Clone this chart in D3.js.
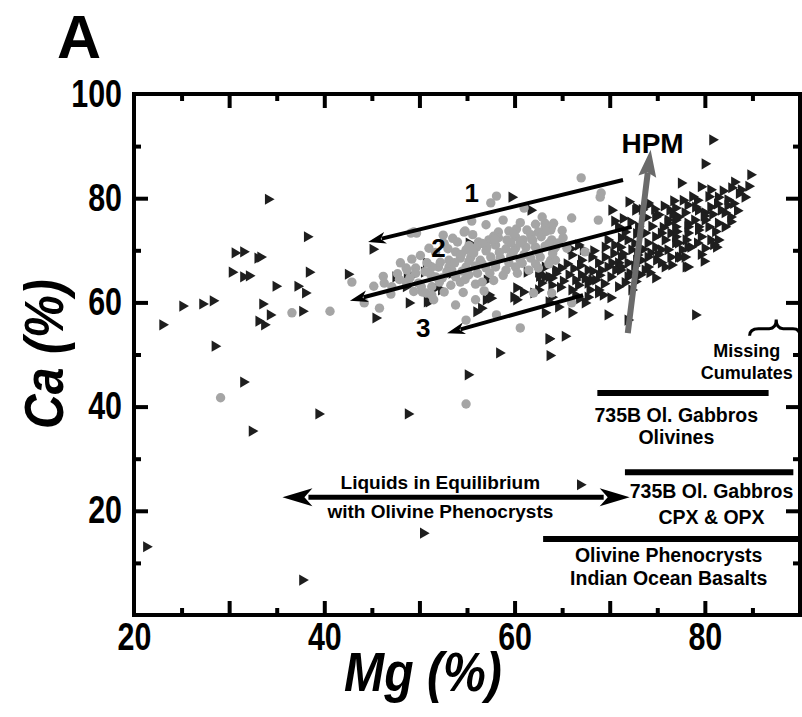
<!DOCTYPE html>
<html><head><meta charset="utf-8">
<script src="https://cdn.jsdelivr.net/npm/d3@7"></script>
<style>
body{margin:0;background:#fff;}
svg{display:block;}
</style></head>
<body>
<script>
// ---- data ----
const blackX = [34.1,38.2,30.6,31.5,33.0,33.3,30.3,31.5,32.1,38.4,34.9,37.2,38.0,42.5,25.1,27.2,28.3,33.5,34.3,33.1,33.7,37.7,23.0,28.5,31.5,39.4,32.4,21.3,37.7,
58.4,63.7,63.6,55.1,48.8,66.9,50.4,45.1,59.7,61.7,
55.2,50.7,49.2,48.6,52.8,53.4,51.7,52.3,48.9,51.0,57.1,57.0,56.0,56.5,57.3,60.2,60.9,62.0,62.5,63.2,63.9,64.3,61.3,62.5,60.2,59.9,63.2,63.9,
50.5,48.7,47.5,45.4,50.8,57.5,63.6,65.3,
70.2,72.7,74.0,75.1,76.3,76.9,
70.9,71.6,71.2,71.9,71.1,72.3,71.2,70.9,71.9,71.1,72.1,
73.0,73.7,74.0,74.3,73.3,74.0,74.9,75.4,75.8,74.8,76.4,76.9,76.4,75.8,
66.7,66.0,67.0,68.1,68.8,67.7,69.5,69.1,69.8,69.5,
64.9,65.7,66.4,67.0,67.7,68.5,66.7,66.0,
63.2,62.6,63.6,64.3,62.8,63.9,
68.8,66.4,67.7,63.6,64.6,69.8,66.0,71.9,
80.8,80.0,84.8,77.5,
79.6,80.6,81.4,83.1,83.8,84.2,82.4,81.7,
72.8,74.0,
76.9,78.2,79.3,80.6,82.1,82.7,80.0,81.4,82.1,
74.8,76.1,77.2,78.2,79.3,75.4,76.9,78.2,79.6,
80.6,
77.2,78.5,77.9,76.1,74.8,74.0,75.4,77.2,78.2,
79.0,
70.2,71.2,71.9,72.8,73.7,70.1,70.9,72.3,
68.1,68.8,67.4,
81.4,81.2,78.2,77.4,78.0,
76.1,76.9,77.9,79.0,80.0,78.2,79.3,80.4,
64.8,65.5,66.2,66.9,67.4,68.2,68.9,69.4,65.1,66.8,67.9,69.3,70.1,68.3,67.2,65.9,70.4,69.8,70.5,
70.5,71.4,72.2,72.8,72.6,73.5,72.9,72.6,73.2,74.2,74.8,75.1,74.4,75.6,73.8,72.0,73.4,74.7,75.7,76.7,71.4,70.6,71.6,72.7,
76.6,77.7,78.7,77.0,78.0,79.2,80.0,79.6,77.6,76.5,78.9,79.9,80.8,81.3,82.4,83.0,83.6,84.6,82.8,81.9,80.4,79.2,81.1,82.7,83.4,80.9,79.9];
const blackY = [79.8,72.6,69.5,69.7,68.5,68.7,65.8,64.9,65.1,65.8,63.1,63.1,61.8,65.4,59.3,59.7,60.3,59.7,57.6,56.4,55.7,58.3,55.7,51.6,44.7,38.6,35.3,13.1,6.7,
50.3,49.8,53.0,46.1,38.6,25.0,15.7,70.2,80.2,77.7,
71.4,67.6,65.1,63.0,65.3,65.6,62.8,62.4,59.9,60.1,64.3,60.5,58.2,58.9,61.4,62.8,62.0,61.8,62.4,64.9,64.7,66.2,65.8,65.8,60.5,61.0,58.0,61.0,
65.8,65.1,64.9,57.0,60.1,60.8,53.0,53.5,
77.7,77.7,79.1,76.8,77.7,75.8,
74.5,73.5,72.4,72.0,70.6,70.1,68.7,67.6,67.6,66.2,65.6,
74.5,73.3,71.4,69.5,68.1,66.8,68.1,70.1,72.0,72.6,73.3,71.4,68.7,66.8,
71.0,69.1,68.1,68.7,67.6,66.2,68.7,66.2,66.8,70.6,
66.6,65.3,64.3,65.3,63.7,64.3,63.3,62.4,
66.8,65.0,64.9,65.6,63.7,63.3,
61.8,61.4,61.0,60.1,59.1,57.6,58.0,56.6,
91.2,86.6,84.5,82.9,
82.2,81.6,80.2,83.1,81.6,80.2,79.7,77.7,
78.1,78.7,
78.1,78.7,77.7,78.3,77.2,76.4,75.8,75.2,74.5,
76.4,75.2,76.4,75.2,74.5,73.3,72.6,73.3,72.6,
72.0,
71.4,70.6,68.7,70.1,70.6,68.7,67.6,68.7,66.8,
57.6,
67.6,66.8,64.9,68.1,66.2,64.9,63.0,62.4,
64.3,62.4,59.9,
72.0,70.6,70.6,68.7,66.8,
75.8,74.5,77.2,78.3,77.2,74.5,73.9,74.5,
62.9,67.4,66.5,67.1,64.6,66.0,65.2,63.6,64.1,60.7,62.4,61.4,60.9,69.9,70.1,70.3,69.4,72.0,71.0,
75.6,76.1,75.4,73.2,71.3,70.2,69.1,67.0,65.3,65.7,64.7,69.2,74.6,74.4,76.3,79.3,77.8,77.9,78.5,79.5,69.3,66.2,63.8,64.0,
76.9,79.6,80.3,73.6,72.0,71.4,70.4,69.2,70.1,67.2,75.8,76.6,76.9,78.9,78.6,79.0,80.9,82.3,82.0,81.4,80.3,79.6,73.6,75.5,77.6,71.1,67.9];

const grayX = [42.9,36.6,40.6,29.1,54.9,
49.4,49.7,54.7,58.1,61.0,66.0,67.0,57.5,54.8,
62.2,63.2,64.1,
58.3,59.4,60.2,61.3,62.5,63.8,
56.2,57.3,58.3,59.2,60.1,60.9,61.8,62.8,63.9,
53.8,54.9,56.0,57.1,58.0,59.1,60.1,61.2,62.2,63.2,64.3,
53.1,54.3,55.4,56.4,57.5,58.5,59.6,60.6,61.7,62.7,63.8,
52.0,53.4,54.9,55.9,57.0,58.0,59.1,60.1,61.5,62.5,
49.6,51.3,48.6,51.2,52.4,53.8,55.2,
49.9,51.3,53.3,54.3,55.9,
50.3,51.3,53.8,55.9,58.1,60.6,
46.3,47.1,48.6,48.7,44.2,45.8,
50.2,50.7,51.5,51.7,53.1,54.9,
69.1,69.0,68.8,63.9,63.2,
67.4,64.1,64.6,64.3,63.9,66.0,62.0,49.1,
55.5,57.0,58.8,60.6,62.9,
52.5,53.5,55.6,57.8,59.9,61.7,63.3,65.0,
51.0,52.6,54.0,55.2,56.6,57.9,59.6,60.6,61.9,63.6,65.1,
50.1,51.7,53.0,54.4,55.7,57.0,58.4,59.9,61.0,62.5,64.0,65.5,
48.0,49.2,50.8,52.2,53.7,55.2,56.6,58.0,59.4,60.8,62.2,63.6,
46.2,47.7,49.6,50.6,52.9,54.5,56.1,57.4,58.8,60.3,
45.2,47.9,49.0,52.1,54.8,56.6,57.8,
47.0,49.4,52.6,54.6,56.8];
const grayY = [63.9,58.0,58.3,41.7,40.5,
73.5,73.3,73.5,80.4,78.1,76.2,83.9,79.1,73.7,
75.0,75.2,75.2,
73.5,73.7,74.1,73.9,73.5,73.9,
71.6,72.0,72.4,72.0,72.6,72.0,72.2,72.6,72.0,
69.7,70.1,70.6,70.6,71.0,70.3,70.4,70.6,70.6,70.8,70.6,
68.1,68.5,68.7,68.1,68.7,68.5,68.9,68.1,68.5,68.7,68.1,
66.8,66.2,66.8,67.0,66.6,66.8,66.2,66.8,66.2,66.6,
66.6,66.8,66.6,65.3,64.7,64.9,65.3,
63.7,63.0,63.3,63.9,63.5,
62.0,61.4,59.5,60.5,57.6,55.1,
63.7,63.0,63.9,66.2,59.9,58.9,
63.0,61.8,60.5,64.9,66.8,56.6,
81.0,80.2,75.8,74.5,74.3,
69.7,70.1,71.4,68.1,61.8,59.9,61.8,73.3,
75.6,74.9,75.8,75.3,76.4,
72.9,72.3,73.0,72.7,73.2,73.0,73.6,73.8,
70.4,71.3,71.6,70.9,71.3,72.1,71.5,71.4,71.9,71.3,72.4,
69.0,69.6,70.3,69.2,69.5,69.9,69.6,69.8,69.2,69.7,69.4,70.4,
67.6,68.3,67.6,67.7,67.6,67.9,67.4,67.5,67.6,67.5,67.4,67.4,
65.0,65.5,65.6,65.9,65.9,66.0,65.6,65.6,65.2,65.6,
63.1,64.4,64.7,63.9,64.4,63.9,64.2,
61.6,62.1,62.0,61.9,62.2];

const xTickLabels = [20,40,60,80];
const yTickLabels = [20,40,60,80,100];

// ---- chart ----
const W = 802, H = 717;
const svg = d3.select("body").append("svg").attr("width", W).attr("height", H);
const x = d3.scaleLinear().domain([20,90]).range([134,800]);
const y = d3.scaleLinear().domain([0,100]).range([615,94]);
const sans = "'Liberation Sans',Arial,sans-serif";

// panel letter
svg.append("text").attr("x",57).attr("y",58).text("A")
  .attr("font-family",sans).attr("font-weight","bold").attr("font-size",61);

// points
const tri = d3.symbol().type(d3.symbolTriangle).size(54);
svg.append("g").selectAll("path").data(d3.range(blackX.length)).join("path")
  .attr("d", tri)
  .attr("transform", i => `translate(${x(blackX[i])},${y(blackY[i])}) rotate(90)`)
  .attr("fill","#1e1e1e");
svg.append("g").selectAll("circle").data(d3.range(grayX.length)).join("circle")
  .attr("cx", i => x(grayX[i])).attr("cy", i => y(grayY[i])).attr("r",4.7)
  .attr("fill","#a5a5a5");

// axes
function styleAxis(g){
  g.select(".domain").remove();
  g.selectAll(".tick line").attr("stroke","#000").attr("stroke-width",4);
  g.selectAll(".tick text").attr("font-family",sans).attr("font-weight","bold")
    .attr("font-size",38).attr("fill","#000").attr("transform","scale(0.8,1)");
}
const xMajor = [30,40,50,60,70,80], xMinor = [25,35,45,55,65,75,85];
const yMajor = [20,40,60,80], yMinor = [10,30,50,70,90];
// bottom
svg.append("g").attr("transform",`translate(0,${y(0)})`)
  .call(d3.axisBottom(x).tickValues(xMajor).tickSize(-14).tickFormat(()=>"")).call(styleAxis);
svg.append("g").attr("transform",`translate(0,${y(0)})`)
  .call(d3.axisBottom(x).tickValues(xMinor).tickSize(-7).tickFormat(()=>"")).call(styleAxis);
svg.append("g").attr("transform",`translate(0,${y(0)})`)
  .call(d3.axisBottom(x).tickValues(xTickLabels).tickSize(0).tickPadding(8).tickFormat(d=>d)).call(styleAxis);
// top
svg.append("g").attr("transform",`translate(0,${y(100)})`)
  .call(d3.axisTop(x).tickValues(xMajor).tickSize(-14).tickFormat(()=>"")).call(styleAxis);
svg.append("g").attr("transform",`translate(0,${y(100)})`)
  .call(d3.axisTop(x).tickValues(xMinor).tickSize(-7).tickFormat(()=>"")).call(styleAxis);
// left
svg.append("g").attr("transform",`translate(${x(20)},0)`)
  .call(d3.axisLeft(y).tickValues(yMajor).tickSize(-14).tickFormat(()=>"")).call(styleAxis);
svg.append("g").attr("transform",`translate(${x(20)},0)`)
  .call(d3.axisLeft(y).tickValues(yMinor).tickSize(-7).tickFormat(()=>"")).call(styleAxis);
svg.append("g").attr("transform",`translate(${x(20)},0)`)
  .call(d3.axisLeft(y).tickValues(yTickLabels).tickSize(0).tickPadding(15).tickFormat(d=>d)).call(styleAxis);
// right
svg.append("g").attr("transform",`translate(${x(90)},0)`)
  .call(d3.axisRight(y).tickValues(yMajor).tickSize(-14).tickFormat(()=>"")).call(styleAxis);
svg.append("g").attr("transform",`translate(${x(90)},0)`)
  .call(d3.axisRight(y).tickValues(yMinor).tickSize(-7).tickFormat(()=>"")).call(styleAxis);
// frame
svg.append("rect").attr("x",x(20)).attr("y",y(100)).attr("width",x(90)-x(20)).attr("height",y(0)-y(100))
  .attr("fill","none").attr("stroke","#000").attr("stroke-width",4);

// axis titles
svg.append("text").attr("transform","translate(423,691) scale(0.86,1)").attr("text-anchor","middle")
  .attr("font-family",sans).attr("font-weight","bold").attr("font-style","italic").attr("font-size",56)
  .text("Mg (%)");
svg.append("text").attr("transform","translate(63,354) rotate(-90) scale(0.86,1)").attr("text-anchor","middle")
  .attr("font-family",sans).attr("font-weight","bold").attr("font-style","italic").attr("font-size",56)
  .text("Ca (%)");

// ---- annotations ----
function head(len, half, notch){ return {len, half, notch}; }
function drawArrow(x1,y1,x2,y2,width,color,h,both){
  const px1=x(x1), py1=y(y1), px2=x(x2), py2=y(y2);
  const dx=px2-px1, dy=py2-py1, L=Math.hypot(dx,dy), ux=dx/L, uy=dy/L;
  const g = svg.append("g");
  const s1 = both ? h.len-4 : 0, s2 = h.len-4;
  g.append("line").attr("x1",px1+ux*s1).attr("y1",py1+uy*s1)
    .attr("x2",px2-ux*s2).attr("y2",py2-uy*s2)
    .attr("stroke",color).attr("stroke-width",width);
  const ang = Math.atan2(dy,dx)*180/Math.PI;
  const hp = `M0,0 L${-h.len},${-h.half} L${-h.len+h.notch},0 L${-h.len},${h.half} Z`;
  g.append("path").attr("d",hp).attr("fill",color).attr("transform",`translate(${px2},${py2}) rotate(${ang})`);
  if(both) g.append("path").attr("d",hp).attr("fill",color).attr("transform",`translate(${px1},${py1}) rotate(${ang+180})`);
}
const smallHead = head(18,6,5);
drawArrow(71.4,83.5,44.6,71.6,4,"#000",smallHead,false);
drawArrow(72.3,74.5,42.7,60.3,4,"#000",smallHead,false);
drawArrow(67.2,61.4,52.9,54.1,4,"#000",smallHead,false);
drawArrow(71.9,54.1,74.3,89.3,6,"#6b6b6b",head(27,9,4),false);
drawArrow(35.6,22.6,72.1,22.6,5,"#000",head(30,9,8),true);

function label(t,xv,yv,size){
  svg.append("text").attr("x",x(xv)).attr("y",y(yv)).attr("text-anchor","middle")
    .attr("font-family",sans).attr("font-weight","bold").attr("font-size",size).text(t);
}
label("1",55.5,79.3,26);
label("2",52.0,68.7,26);
label("3",50.4,53.4,26);
label("HPM",74.5,88.7,28);
label("Liquids in Equilibrium",52.2,24.2,19);
label("with Olivine Phenocrysts",52.2,18.6,19);
label("735B Ol. Gabbros",77.0,37.0,19.5);
label("Olivines",77.0,32.8,19.5);
label("735B Ol. Gabbros",80.7,22.5,19.5);
label("CPX & OPX",80.7,17.5,19.5);
label("Olivine Phenocrysts",76.2,10.2,19.5);
label("Indian Ocean Basalts",76.2,5.8,19.5);
label("Missing",84.4,49.5,18);
label("Cumulates",84.4,45.3,18);

// bars
const bars = [[68.7,86.7,42.6],[71.6,89.3,27.4],[63.0,90,14.6]];
bars.forEach(b=>{
  svg.append("line").attr("x1",x(b[0])).attr("x2",x(b[1])).attr("y1",y(b[2])).attr("y2",y(b[2]))
    .attr("stroke","#000").attr("stroke-width",6);
});

// brace
const bl=x(84.7), br=x(90), bm=x(87.5), bb=y(53.6), bt=y(56.7), bmid=(bb+bt)/2+1;
svg.append("path")
  .attr("d",`M${bl},${bb} Q${bl},${bmid} ${bl+9},${bmid} L${bm-7},${bmid} Q${bm},${bmid} ${bm},${bt} Q${bm},${bmid} ${bm+7},${bmid} L${br-7},${bmid} Q${br},${bmid} ${br},${bb}`)
  .attr("fill","none").attr("stroke","#000").attr("stroke-width",3);
</script>
</body></html>
